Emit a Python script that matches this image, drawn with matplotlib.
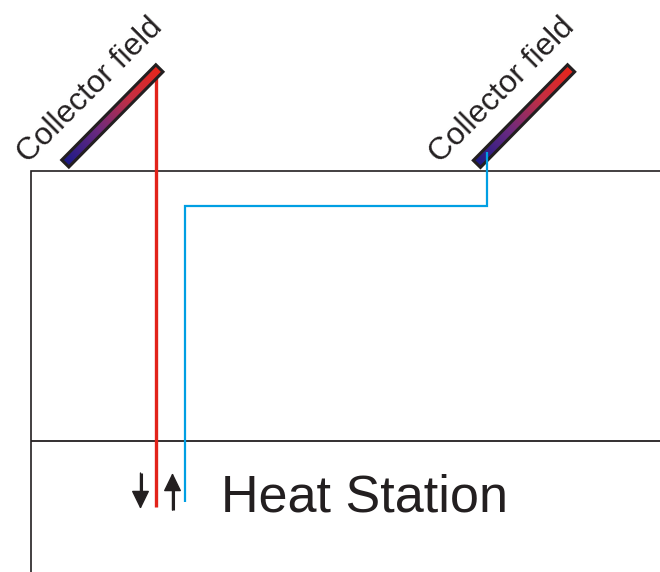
import numpy as np
import matplotlib
matplotlib.use("Agg")
import matplotlib.pyplot as plt
from matplotlib.colors import LinearSegmentedColormap
from matplotlib.patches import Polygon

# everything is in image pixels, y pointing down
W, H = 660, 572
BLACK = "#231f20"
RED = "#e2231a"
BLUE = "#009fe3"

collector_labels = ["Collector field", "Collector field"]
label_positions = [(90, 91), (502.5, 91)]
collector_starts = [(65.3, 163.5), (476.9, 163.9)]
collector_ends = [(159.4, 68.3), (571.1, 68.3)]
building_left = [(660, 171), (31, 171), (31, 572)]
floor_line = [(31, 441), (660, 441)]
hot_pipe = [(155.5, 78), (155.5, 507)]
cold_pipe = [(185, 502), (185, 206), (487, 206), (487, 152)]
station_label = "Heat Station"

grad = LinearSegmentedColormap.from_list("collector", ["#1d1a87", "#6a2a80", "#c12f45", "#e8261b"])

fig = plt.figure(figsize=(W / 100, H / 100), dpi=100)
ax = fig.add_axes([0, 0, 1, 1])
ax.set_xlim(0, W)
ax.set_ylim(H, 0)
ax.axis("off")


def draw_collector(start, end):
    p0, p1 = np.array(start, float), np.array(end, float)
    d = (p1 - p0) / np.linalg.norm(p1 - p0)
    n = np.array([-d[1], d[0]]) * 5.0
    corners = [p0 + n, p1 + n, p1 - n, p0 - n]
    xs = np.arange(p0[0] - 10, p1[0] + 10)
    ys = np.arange(p1[1] - 10, p0[1] + 10)
    gx, gy = np.meshgrid(xs, ys)
    t = ((gx - p0[0]) * d[0] + (gy - p0[1]) * d[1]) / np.linalg.norm(p1 - p0)
    img = ax.imshow(t, cmap=grad, vmin=0, vmax=1, aspect="auto", zorder=2,
                    extent=(xs[0], xs[-1], ys[-1], ys[0]))
    img.set_clip_path(Polygon(corners, transform=ax.transData))
    ax.add_patch(Polygon(corners, closed=True, fill=False, ec=BLACK, lw=2.2,
                         joinstyle="miter", zorder=3))


def draw_path(pts, color, lw, zorder):
    xs, ys = zip(*pts)
    ax.plot(xs, ys, color=color, lw=lw, zorder=zorder, solid_joinstyle="miter",
            solid_capstyle="butt")


draw_path(building_left, BLACK, 1.2, 1)
draw_path(floor_line, BLACK, 1.3, 1)

for start, end in zip(collector_starts, collector_ends):
    draw_collector(start, end)

# red pipe stops under the bar, blue one runs into it
draw_path(hot_pipe, RED, 2.4, 2)
draw_path(cold_pipe, BLUE, 1.6, 4)

# the two flow arrows
ax.annotate("", xy=(140.5, 509), xytext=(140.5, 473), zorder=5,
            arrowprops=dict(arrowstyle="-|>,head_width=0.56,head_length=1.15", color=BLACK,
                            lw=1.0, shrinkA=0, shrinkB=0))
ax.annotate("", xy=(172.5, 473), xytext=(172.5, 510), zorder=5,
            arrowprops=dict(arrowstyle="-|>,head_width=0.56,head_length=1.15", color=BLACK,
                            lw=1.0, shrinkA=0, shrinkB=0))
ax.plot([140.5, 140.5], [473, 495], color=BLACK, lw=2.2, solid_capstyle="butt", zorder=5)
ax.plot([172.5, 172.5], [486, 510], color=BLACK, lw=2.2, solid_capstyle="butt", zorder=5)

for label, (x, y) in zip(collector_labels, label_positions):
    ax.text(x, y, label, rotation=45, rotation_mode="anchor", ha="center", va="center",
            fontsize=22.8, color=BLACK, family="Liberation Sans")

ax.text(364.5, 498, station_label, ha="center", va="center", fontsize=37.5, color=BLACK,
        family="Liberation Sans")

fig.savefig("out.png", dpi=100)
